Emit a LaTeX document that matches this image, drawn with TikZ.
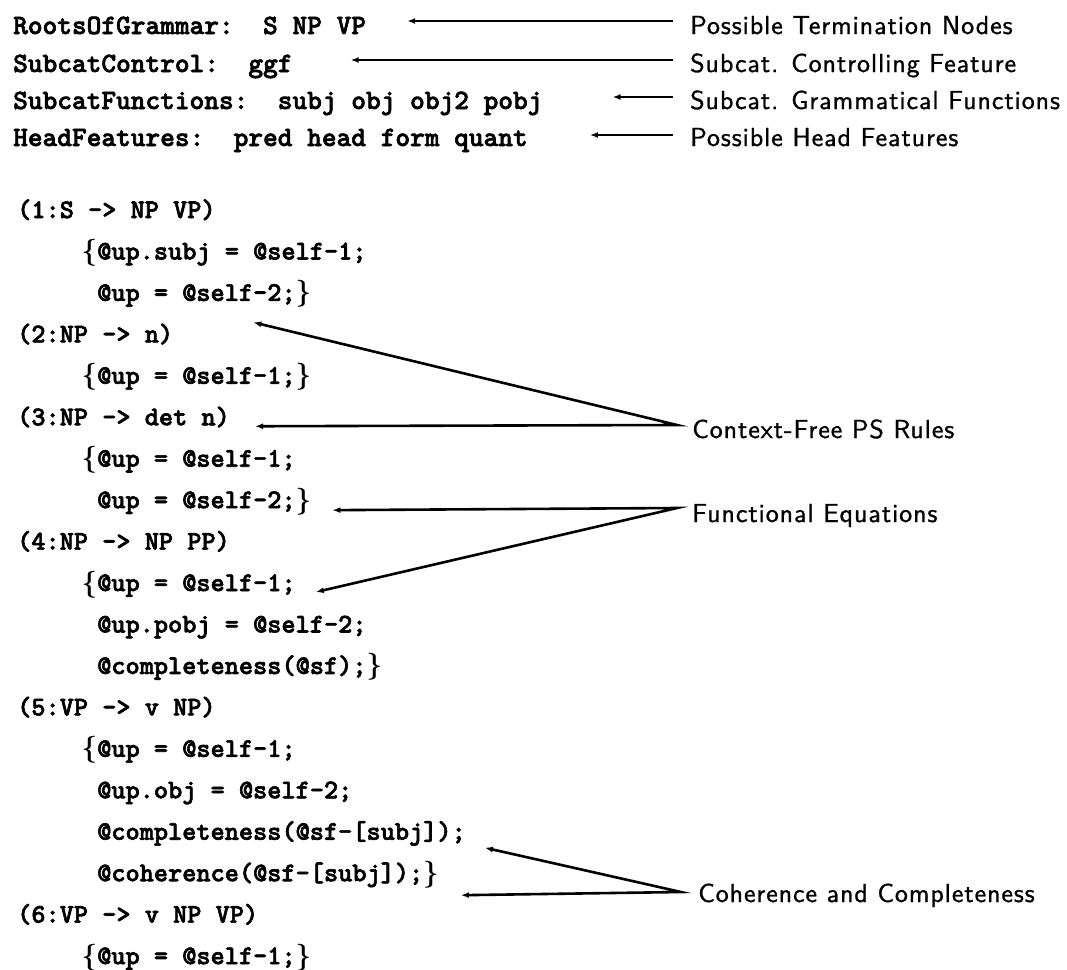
\documentclass[tikz,border=0pt]{standalone}
\usepackage{fontspec}
\usetikzlibrary{arrows.meta}
% heavy typewriter for the grammar text, letter-spaced sans for the notes
\newfontfamily\codefont{lmmonolt10-bold.otf}[FakeBold=2.2]
\newfontfamily\notefont{lmsans10-regular.otf}[LetterSpace=3.5,FakeBold=1]
% roman braces around the equation blocks
\newcommand\obr{\textnormal{\bfseries\{}}
\newcommand\cbr{\textnormal{\bfseries\}}}
\tikzset{
  hdr/.style={anchor=base west, inner sep=0pt, font=\fontsize{28}{30}\selectfont\codefont},
  code/.style={anchor=base west, inner sep=0pt, font=\fontsize{27}{30}\selectfont\codefont},
  lbl/.style={anchor=base west, inner sep=0pt, font=\fontsize{26}{30}\selectfont\notefont},
  ptr/.style={line width=2.6pt, -{Latex[length=8pt,width=6pt]}},
  fork/.style={line width=2.6pt, line join=miter, miter limit=30,
    {Latex[length=8pt,width=6pt]}-{Latex[length=8pt,width=6pt]}},
}
\begin{document}
\begin{tikzpicture}[x=1pt,y=-1pt]
\fill[white] (0,0) rectangle (1067,969);
\useasboundingbox (0,0) rectangle (1067,969);

% grammar header
\node[hdr] (r1) at (13,34)  {RootsOfGrammar:~~S NP VP};
\node[hdr] (r2) at (13,72)  {SubcatControl:~~ggf};
\node[hdr] (r3) at (13,109) {SubcatFunctions:~~subj obj obj2 pobj};
\node[hdr] (r4) at (13,146) {HeadFeatures:~~pred head form quant};

\node[lbl] (h1) at (690,34)  {Possible Termination Nodes};
\node[lbl] (h2) at (690,72)  {Subcat. Controlling Feature};
\node[lbl] (h3) at (690,109) {Subcat. Grammatical Functions};
\node[lbl] (h4) at (690,146) {Possible Head Features};

\draw[ptr] ([xshift=-17pt,yshift=13pt]h1.base west) -- ([xshift=41pt,yshift=13pt]r1.base east);
\draw[ptr] ([xshift=-17pt,yshift=12pt]h2.base west) -- ([xshift=58pt,yshift=12pt]r2.base east);
\draw[ptr] ([xshift=-17pt,yshift=12pt]h3.base west) -- ([xshift=70pt,yshift=12pt]r3.base east);
\draw[ptr] ([xshift=-17pt,yshift=11pt]h4.base west) -- ([xshift=62pt,yshift=11pt]r4.base east);

% rules with their functional equations
\node[code] (l0)  at (17,218)    {(1:S -> NP VP)};
\node[code] (l1)  at (97,259.45) {\llap{\obr}@up.subj = @self-1;};
\node[code] (l2)  at (97,300.9)  {@up = @self-2;\cbr};
\node[code] (l3)  at (17,342.35) {(2:NP -> n)};
\node[code] (l4)  at (97,383.8)  {\llap{\obr}@up = @self-1;\cbr};
\node[code] (l5)  at (17,425.25) {(3:NP -> det n)};
\node[code] (l6)  at (97,466.7)  {\llap{\obr}@up = @self-1;};
\node[code] (l7)  at (97,508.15) {@up = @self-2;\cbr};
\node[code] (l8)  at (17,549.6)  {(4:NP -> NP PP)};
\node[code] (l9)  at (97,591.05) {\llap{\obr}@up = @self-1;};
\node[code] (l10) at (97,632.5)  {@up.pobj = @self-2;};
\node[code] (l11) at (97,673.95) {@completeness(@sf);\cbr};
\node[code] (l12) at (17,715.4)  {(5:VP -> v NP)};
\node[code] (l13) at (97,756.85) {\llap{\obr}@up = @self-1;};
\node[code] (l14) at (97,798.3)  {@up.obj = @self-2;};
\node[code] (l15) at (97,839.75) {@completeness(@sf-[subj]);};
\node[code] (l16) at (97,881.2)  {@coherence(@sf-[subj]);\cbr};
\node[code] (l17) at (17,922.65) {(6:VP -> v NP VP)};
\node[code] (l18) at (97,964.1)  {\llap{\obr}@up = @self-1;\cbr};

% annotations on the right
\node[lbl] (cf) at (692,438) {Context-Free PS Rules};
\node[lbl] (fe) at (692,522) {Functional Equations};
\node[lbl] (cc) at (698,902) {Coherence and Completeness};

\coordinate (cfj) at ([xshift=-15pt,yshift=13pt]cf.base west);
\coordinate (fej) at ([xshift=-15pt,yshift=14pt]fe.base west);
\coordinate (ccj) at ([xshift=-17pt,yshift=10pt]cc.base west);

\draw[fork] ([xshift=80pt,yshift=20pt]l3.base east) -- (cfj) -- ([xshift=25pt,yshift=-1pt]l5.base east);
\draw[fork] ([xshift=21pt,yshift=-2pt]l7.base east) -- (fej) -- ([xshift=20pt,yshift=-1pt]l9.base east);
\draw[fork] ([xshift=19pt,yshift=-8pt]l15.base east) -- (ccj) -- ([xshift=22pt,yshift=-14pt]l16.base east);
\end{tikzpicture}
\end{document}
